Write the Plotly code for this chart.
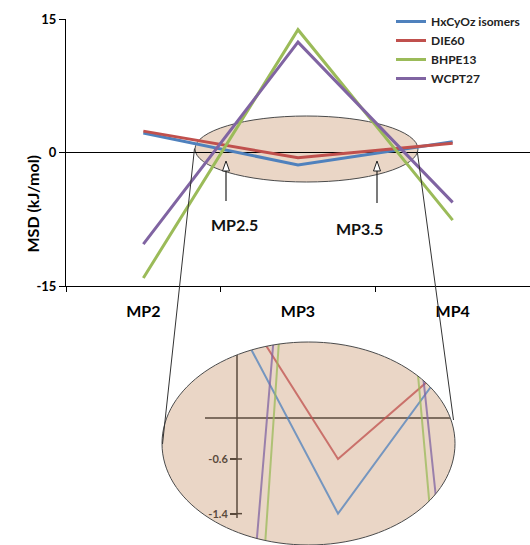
import plotly.graph_objects as go

# ---------------- data ----------------
categories = ["MP2", "MP3", "MP4"]
series_names = ["HxCyOz isomers", "DIE60", "BHPE13", "WCPT27"]
hxcyoz = [2.2, -1.4, 1.2]
die60 = [2.4, -0.6, 1.05]
bhpe13 = [-14.1, 13.8, -7.6]
wcpt27 = [-10.3, 12.4, -5.6]
y_ticks = [-15, 0, 15]
y_tick_text = ["-15", "0", "15"]
inset_ticks = [-0.6, -1.4]
inset_tick_text = ["-0.6", "-1.4"]

colors = ["#4F81BD", "#C0504D", "#9BBB59", "#8064A2"]
series_values = [hxcyoz, die60, bhpe13, wcpt27]

W, H = 530, 545
FONT = "Lato"


def px(x):
    return x / W


def py(y):
    return 1 - y / H


fig = go.Figure()

# main traces
for name, vals, col in zip(series_names, series_values, colors):
    fig.add_trace(go.Scatter(x=categories, y=vals, mode="lines", name=name,
                             line=dict(color=col, width=3),
                             xaxis="x", yaxis="y", hoverinfo="skip"))

# inset (zoomed) traces
for name, vals, col in zip(series_names, series_values, colors):
    fig.add_trace(go.Scatter(x=categories, y=vals, mode="lines", name=name,
                             line=dict(color=col, width=2), opacity=0.75,
                             showlegend=False, xaxis="x2", yaxis="y2",
                             hoverinfo="skip"))


def ellipse_path(cx, cy, rx, ry):
    k = 0.5523
    X = lambda v: px(v)
    Y = lambda v: py(v)
    s = f"M {X(cx+rx)},{Y(cy)} "
    s += f"C {X(cx+rx)},{Y(cy+k*ry)} {X(cx+k*rx)},{Y(cy+ry)} {X(cx)},{Y(cy+ry)} "
    s += f"C {X(cx-k*rx)},{Y(cy+ry)} {X(cx-rx)},{Y(cy+k*ry)} {X(cx-rx)},{Y(cy)} "
    s += f"C {X(cx-rx)},{Y(cy-k*ry)} {X(cx-k*rx)},{Y(cy-ry)} {X(cx)},{Y(cy-ry)} "
    s += f"C {X(cx+k*rx)},{Y(cy-ry)} {X(cx+rx)},{Y(cy-k*ry)} {X(cx+rx)},{Y(cy)} Z"
    return s


PEACH = "#EAD6C6"
EDGE = "#4a4a4a"
BROWN = "#5a4a3c"

icx, icy, irx, iry = 308.5, 443.5, 146.5, 101.5

shapes = []
# main highlight ellipse (below traces)
shapes.append(dict(type="circle", xref="paper", yref="paper",
                   x0=px(195), x1=px(418), y0=py(182), y1=py(116),
                   fillcolor=PEACH, line=dict(color=EDGE, width=1), layer="below"))
# inset ellipse fill
shapes.append(dict(type="path", xref="paper", yref="paper",
                   path=ellipse_path(icx, icy, irx, iry),
                   fillcolor=PEACH, line=dict(width=0), layer="below"))
# inset axis lines
shapes.append(dict(type="line", xref="paper", yref="paper",
                   x0=px(205), x1=px(452), y0=py(418), y1=py(418),
                   line=dict(color=BROWN, width=1.5), layer="below"))
shapes.append(dict(type="line", xref="paper", yref="paper",
                   x0=px(237), x1=px(237), y0=py(355), y1=py(518),
                   line=dict(color=BROWN, width=1.5), layer="below"))
# inset tick marks crossing the axis (right half)
for tv in inset_ticks:
    shapes.append(dict(type="line", xref="paper", yref="y2",
                       x0=px(237), x1=px(242), y0=tv, y1=tv,
                       line=dict(color=BROWN, width=1.5), layer="below"))
# mask outside inset ellipse
rect = (f"M {px(150)},{py(330)} L {px(470)},{py(330)} L {px(470)},{py(550)} "
        f"L {px(150)},{py(550)} Z ")
shapes.append(dict(type="path", xref="paper", yref="paper",
                   path=rect + ellipse_path(icx, icy, irx, iry),
                   fillcolor="white", fillrule="evenodd",
                   line=dict(width=0), layer="above"))
# inset ellipse outline
shapes.append(dict(type="path", xref="paper", yref="paper",
                   path=ellipse_path(icx, icy, irx, iry),
                   fillcolor="rgba(0,0,0,0)", line=dict(color=EDGE, width=1),
                   layer="above"))
# connector lines
shapes.append(dict(type="line", xref="paper", yref="paper",
                   x0=px(194.5), y0=py(148.5), x1=px(162.5), y1=py(444),
                   line=dict(color="#333", width=1), layer="above"))
shapes.append(dict(type="line", xref="paper", yref="paper",
                   x0=px(417.3), y0=py(151.7), x1=px(453.5), y1=py(420),
                   line=dict(color="#333", width=1), layer="above"))
# arrows
for ax_, top, bot in [(226, 161, 201), (377, 161, 203)]:
    shapes.append(dict(type="line", xref="paper", yref="paper",
                       x0=px(ax_), x1=px(ax_), y0=py(bot), y1=py(top + 9),
                       line=dict(color="#222", width=1.2), layer="above"))
    tri = (f"M {px(ax_)},{py(top)} L {px(ax_-3.5)},{py(top+10)} "
           f"L {px(ax_+3.5)},{py(top+10)} Z")
    shapes.append(dict(type="path", xref="paper", yref="paper", path=tri,
                       fillcolor="white", line=dict(color="#222", width=1),
                       layer="above"))

annotations = [
    dict(text="MSD (kJ/mol)", x=px(21), y=py(153), xref="paper", yref="paper",
         textangle=-90, showarrow=False,
         font=dict(family=FONT, size=16, color="black", weight="bold")),
    dict(text="MP2.5", x=px(234), y=py(225), xref="paper", yref="paper",
         showarrow=False, font=dict(family=FONT, size=16, color="#111", weight="bold")),
    dict(text="MP3.5", x=px(385), y=py(228), xref="paper", yref="paper",
         showarrow=False, font=dict(family=FONT, size=16, color="#111", weight="bold")),
]

fig.update_layout(
    width=W, height=H,
    margin=dict(l=0, r=0, t=0, b=0),
    paper_bgcolor="white", plot_bgcolor="rgba(0,0,0,0)",
    showlegend=True,
    legend=dict(x=px(391), y=py(7), xanchor="left", yanchor="top",
                bgcolor="rgba(0,0,0,0)", tracegroupgap=0,
                font=dict(family=FONT, size=12, color="#222", weight="bold")),
    xaxis=dict(domain=[px(66), 1], range=[-0.5, 2.5], type="category",
               tickson="boundaries", ticks="outside", ticklen=5, tickcolor="black",
               showline=True, linecolor="black", linewidth=1, showgrid=False,
               zeroline=False, anchor="y", automargin=False,
               ticklabelstandoff=11,
               tickfont=dict(family=FONT, size=16, color="black", weight="bold")),
    yaxis=dict(domain=[py(286), py(19)], range=[-15, 15], tickvals=y_ticks,
               ticktext=y_tick_text,
               ticks="outside", ticklen=6, tickcolor="black", showline=True,
               linecolor="black", linewidth=1, zeroline=True,
               zerolinecolor="black", zerolinewidth=1.2, showgrid=False,
               anchor="x", automargin=False,
               tickfont=dict(family=FONT, size=13, color="black", weight="bold")),
    xaxis2=dict(domain=[px(162), px(455)], range=[-0.354, 1.9], type="category",
                visible=False, anchor="y2"),
    yaxis2=dict(domain=[0, py(342)], range=[-1.859, 1.113], anchor="free",
                position=px(237), tickvals=inset_ticks, ticktext=inset_tick_text,
                ticks="outside", ticklen=7, tickcolor=BROWN, tickwidth=1.5,
                showline=False, showgrid=False, zeroline=False, automargin=False,
                tickfont=dict(family=FONT, size=11, color=BROWN, weight="bold")),
    shapes=shapes,
    annotations=annotations,
)

fig.write_html("out.html", config={"displayModeBar": False},
               post_script="document.body.style.margin='0';")
